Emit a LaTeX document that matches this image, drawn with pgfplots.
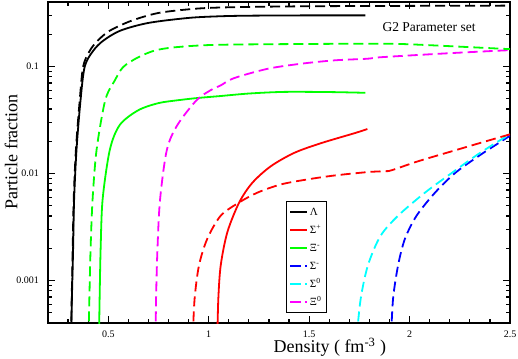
\documentclass[border=0pt]{standalone}
\usepackage{pgfplots}
\pgfplotsset{compat=1.18}
\usepackage{fontspec}
\setmainfont{Liberation Serif}
\usetikzlibrary{calc}
\definecolor{gGreen}{RGB}{0,255,0}
\definecolor{gCyan}{RGB}{0,255,255}
\definecolor{gMag}{RGB}{255,0,255}
\definecolor{gRed}{RGB}{255,0,0}
\definecolor{gBlue}{RGB}{0,0,255}
\pgfplotsset{
  solidc/.style={line width=1.8pt, solid, smooth, tension=0.5},
  dashc/.style={line width=1.8pt, dash pattern=on 10pt off 5pt, smooth, tension=0.5},
  dashleg/.style={legend image code/.code={\draw[##1, dash pattern=on 11pt off 4pt on 2pt off 20pt] (0cm,0cm) -- (0.6cm,0cm);}},
}
\begin{document}
\begin{tikzpicture}
\begin{axis}[
  name=ax,
  scale only axis,
  width=462pt, height=321pt,
  ymode=log,
  xmin=0.2, xmax=2.5,
  ymin=4e-4, ymax=0.4,
  xtick={0.5,1,1.5,2,2.5},
  xticklabels={0.5,1,1.5,2,2.5},
  minor xtick={0.2,0.3,0.4,0.6,0.7,0.8,0.9,1.1,1.2,1.3,1.4,1.6,1.7,1.8,1.9,2.1,2.2,2.3,2.4},
  ytick={0.001,0.01,0.1},
  yticklabels={0.001,0.01,0.1},
  minor ytick={5e-4,6e-4,7e-4,8e-4,9e-4,2e-3,3e-3,4e-3,5e-3,6e-3,7e-3,8e-3,9e-3,2e-2,3e-2,4e-2,5e-2,6e-2,7e-2,8e-2,9e-2,0.2,0.3},
  major tick length=7pt,
  minor tick length=4pt,
  tick align=inside,
  every tick/.style={black, line width=1.2pt},
  axis line style={line width=1.8pt},
  ticklabel style={font=\fontsize{10}{12}\selectfont},
  xticklabel style={yshift=-4.5pt},
  yticklabel style={xshift=-5.5pt},
  xlabel={Density ( fm\textsuperscript{-3} )},
  ylabel={Particle fraction},
  label style={font=\fontsize{18}{22}\selectfont},
  xlabel style={at={(axis description cs:0.4805,-0.093)}, anchor=base west},
  ylabel style={at={(axis description cs:-0.0665,0.3427)}, anchor=base west, rotate=0},
  legend style={at={(axis description cs:0.5145,0.38)}, anchor=north west, draw=black, line width=0.8pt,
    font=\fontsize{11}{12}\selectfont, row sep=3pt, inner xsep=3pt, inner ysep=3pt,
    nodes={text height=9pt, text depth=2pt},
    /tikz/column 2/.style={column sep=7pt}},
  legend cell align=left,
]
% Lambda solid
\addplot[solidc, black] coordinates {
(0.315,3e-4) (0.319,6.8e-4) (0.325,1.98e-3) (0.330,5.74e-3) (0.342,0.0167) (0.362,0.0484) (0.383,0.1) (0.425,0.14) (0.475,0.174) (0.56,0.216) (0.70,0.255) (0.90,0.284) (1.05,0.294) (1.2,0.298) (1.5,0.300) (1.78,0.300)};
\addlegendentry{Λ}
% Sigma+ solid
\addplot[solidc, gRed] coordinates {
(1.043,3e-4) (1.048,6.8e-4) (1.06,1.39e-3) (1.093,2.83e-3) (1.152,5.36e-3) (1.218,8.2e-3) (1.31,0.0117) (1.427,0.0156) (1.56,0.0192) (1.727,0.0238) (1.79,0.026)};
\addlegendentry{Σ\textsuperscript{+}}
% Xi- solid
\addplot[solidc, gGreen] coordinates {
(0.454,3e-4) (0.457,6.8e-4) (0.462,1.98e-3) (0.472,5.74e-3) (0.508,0.0167) (0.558,0.0285) (0.65,0.039) (0.75,0.0454) (0.85,0.0484) (0.95,0.0508) (1.05,0.0527) (1.2,0.0558) (1.375,0.0578) (1.6,0.0576) (1.78,0.0567)};
\addlegendentry{Ξ\textsuperscript{-}}
% Sigma- dashed
\addplot[dashc, gBlue, dashleg] coordinates {
(1.908,3e-4) (1.918,6.8e-4) (1.943,1.39e-3) (1.977,2.45e-3) (2.035,4.03e-3) (2.127,6.62e-3) (2.227,0.0101) (2.343,0.0145) (2.443,0.0192) (2.5,0.0225)};
\addlegendentry{Σ\textsuperscript{-}}
% Sigma0 dashed
\addplot[dashc, gCyan, dashleg] coordinates {
(1.737,3e-4) (1.757,6.8e-4) (1.793,1.39e-3) (1.855,2.6e-3) (1.943,4.03e-3) (2.077,6.62e-3) (2.21,0.0101) (2.327,0.0145) (2.427,0.0192) (2.5,0.0232)};
\addlegendentry{Σ\textsuperscript{0}}
% Xi0 dashed
\addplot[dashc, gMag, dashleg] coordinates {
(0.736,3e-4) (0.738,6.8e-4) (0.745,1.98e-3) (0.758,5.74e-3) (0.792,0.0167) (0.845,0.0285) (0.94,0.0484) (1.01,0.06) (1.06,0.0665) (1.125,0.0776) (1.293,0.095) (1.46,0.106) (1.627,0.114) (1.79,0.118) (1.86,0.122) (2.2,0.133) (2.5,0.142)};
\addlegendentry{Ξ\textsuperscript{0}}
% Lambda dashed
\addplot[dashc, black, forget plot] coordinates {
(0.315,3e-4) (0.318,6.8e-4) (0.323,1.98e-3) (0.328,5.74e-3) (0.339,0.0167) (0.358,0.0484) (0.375,0.1) (0.408,0.14) (0.447,0.174) (0.508,0.216) (0.617,0.268) (0.75,0.316) (0.917,0.344) (1.05,0.355) (1.3,0.362) (1.6,0.366) (2.0,0.368) (2.5,0.37)};
% Sigma+ dashed
\addplot[dashc, gRed, forget plot] coordinates {
(0.921,3e-4) (0.93,6.8e-4) (0.952,1.39e-3) (0.993,2.45e-3) (1.06,4.03e-3) (1.152,5.36e-3) (1.243,6.62e-3) (1.36,7.9e-3) (1.493,8.8e-3) (1.627,9.57e-3) (1.793,0.0103) (1.877,0.0105) (1.91,0.0107) (2.043,0.013) (2.21,0.0161) (2.377,0.0199) (2.5,0.0232)};
% Xi- dashed
\addplot[dashc, gGreen, forget plot] coordinates {
(0.402,3e-4) (0.406,6.8e-4) (0.412,1.98e-3) (0.422,5.74e-3) (0.442,0.0167) (0.485,0.0484) (0.533,0.0742) (0.575,0.099) (0.65,0.122) (0.733,0.141) (0.833,0.151) (1.03,0.159) (1.46,0.162) (1.86,0.163) (2.0,0.161) (2.25,0.153) (2.5,0.145)};
\node[anchor=base west, font=\fontsize{13.5}{16}\selectfont] at (axis description cs:0.7165,0.908) {G2 Parameter set};
\end{axis}
\pgfresetboundingbox
\path ($(ax.south west)+(-48pt,-35pt)$) rectangle ($(ax.north east)+(8pt,2pt)$);
\end{tikzpicture}
\end{document}
